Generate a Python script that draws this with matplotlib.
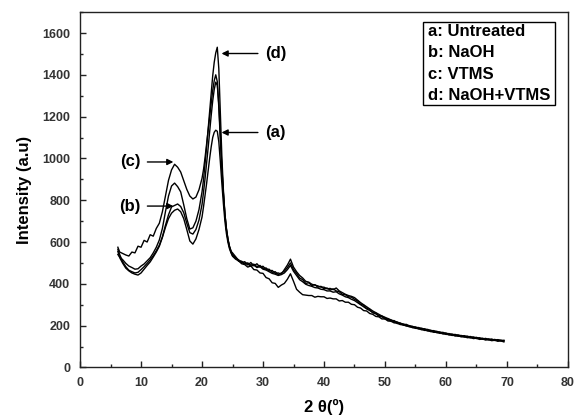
import numpy as np
import matplotlib
matplotlib.use("Agg")
import matplotlib.pyplot as plt
from matplotlib.ticker import MultipleLocator
from matplotlib.patches import Rectangle

plt.rcParams['font.family'] = ['Liberation Sans', 'DejaVu Sans']

# 2-theta sampling grid (degrees)
theta = np.r_[6.2, np.arange(6.5, 20.0, 0.5), np.arange(20.0, 25.0, 0.25), np.arange(25.0, 70.0, 0.5)]

untreated = [555, 525, 498, 475, 462, 452, 446, 442, 452, 470, 488, 505, 528, 552, 580, 622, 670, 712, 738, 752, 758, 745, 712, 660, 605, 590, 615, 660,
             720, 770, 825, 880, 940, 1000, 1055, 1100, 1125, 1135, 1130, 1080, 985, 880, 785, 700, 640, 598, 568, 548,
             532, 518, 510, 496, 492, 480, 486, 468, 466, 452, 450, 430, 424, 405, 402, 383, 394, 402, 422, 448,
             412, 374, 360, 348, 346, 344, 344, 336, 340, 338, 338, 330, 332, 328, 328, 318, 320, 312, 312, 302,
             300, 288, 284, 272, 270, 258, 254, 244, 242, 232, 232, 222, 222, 213, 214, 205, 205, 198, 198, 190,
             191, 184, 184, 177, 178, 171, 172, 166, 167, 160, 162, 155, 157, 150, 152, 146, 148, 142, 144, 138,
             140, 134, 136, 131, 133, 128, 130, 125, 127, 122]

naoh = [565, 540, 505, 482, 465, 458, 452, 455, 468, 482, 498, 515, 535, 558, 585, 625, 680, 730, 768, 775, 782, 770, 740, 690, 645, 638, 660, 705,
        780, 840, 905, 975, 1050, 1130, 1205, 1275, 1330, 1365, 1350, 1260, 1110, 960, 835, 730, 660, 610, 575, 552,
        535, 526, 508, 504, 494, 496, 484, 490, 478, 482, 470, 466, 458, 450, 446, 440, 444, 452, 468, 488,
        460, 440, 420, 410, 398, 392, 388, 382, 380, 374, 372, 366, 366, 360, 362, 352, 346, 338, 334, 326,
        320, 310, 300, 290, 280, 272, 262, 256, 246, 242, 232, 228, 220, 218, 210, 208, 202, 200, 194, 192,
        187, 186, 180, 180, 174, 174, 168, 168, 163, 163, 158, 158, 153, 154, 149, 150, 145, 146, 141, 143,
        138, 139, 135, 136, 132, 133, 129, 131, 127, 128]

vtms = [575, 552, 545, 538, 533, 552, 548, 580, 575, 608, 600, 635, 628, 665, 690, 745, 820, 895, 945, 972, 958, 935, 893, 852, 820, 806, 815, 850,
        905, 948, 1005, 1070, 1135, 1200, 1262, 1325, 1372, 1400, 1368, 1245, 1090, 950, 830, 735, 665, 615, 580, 558,
        540, 522, 515, 500, 506, 490, 502, 486, 496, 480, 484, 468, 470, 455, 458, 444, 452, 460, 478, 500,
        468, 450, 428, 420, 402, 405, 392, 396, 384, 388, 376, 380, 370, 376, 366, 362, 350, 348, 338, 336,
        326, 318, 302, 298, 282, 278, 262, 260, 248, 246, 236, 234, 224, 224, 214, 213, 205, 206, 198, 197,
        190, 191, 184, 185, 178, 178, 172, 173, 166, 168, 161, 162, 156, 158, 152, 153, 148, 150, 144, 146,
        140, 142, 136, 139, 133, 136, 130, 133, 128, 130]

naoh_vtms = [540, 528, 515, 498, 485, 478, 470, 472, 485, 495, 510, 525, 548, 575, 610, 665, 745, 820, 868, 882, 865, 840, 778, 712, 662, 668, 700, 755,
             840, 900, 975, 1055, 1140, 1225, 1310, 1395, 1460, 1505, 1532, 1430, 1220, 1010, 850, 735, 660, 612, 578, 555,
             548, 530, 512, 508, 498, 500, 490, 494, 482, 488, 474, 476, 462, 464, 450, 452, 446, 468, 490, 518,
             480, 458, 440, 428, 412, 408, 398, 394, 390, 384, 384, 376, 378, 372, 380, 366, 358, 350, 344, 340,
             334, 322, 310, 300, 290, 280, 270, 262, 254, 246, 240, 232, 228, 220, 218, 210, 208, 202, 200, 194,
             194, 188, 188, 182, 182, 176, 176, 170, 170, 164, 165, 159, 160, 154, 156, 150, 152, 146, 148, 142,
             144, 138, 140, 134, 137, 131, 134, 129, 131, 126]

legend_labels = ["a: Untreated", "b: NaOH", "c: VTMS", "d: NaOH+VTMS"]

fig = plt.figure(figsize=(5.76, 4.18), dpi=100)
ax = fig.add_axes([0.139, 0.121, 0.847, 0.850])

for series in (untreated, naoh, vtms, naoh_vtms):
    ax.plot(theta, series, color='black', lw=1.0)

ax.set_xlim(0, 80)
ax.set_ylim(0, 1700)
ax.xaxis.set_major_locator(MultipleLocator(10))
ax.xaxis.set_minor_locator(MultipleLocator(5))
ax.yaxis.set_major_locator(MultipleLocator(200))
ax.yaxis.set_minor_locator(MultipleLocator(100))
ax.tick_params(which='both', direction='in', width=1, colors='#222222',
               labelcolor='#333333', labelsize=9, pad=7)
ax.tick_params(which='major', length=4)
ax.tick_params(which='minor', length=2.5)
for lab in ax.get_xticklabels() + ax.get_yticklabels():
    lab.set_fontweight('bold')
for sp in ax.spines.values():
    sp.set_linewidth(1.0)
    sp.set_color('#222222')

ax.set_xlabel("2 θ(º)", fontsize=12, fontweight='bold', labelpad=7)
ax.set_ylabel("Intensity (a.u)", fontsize=12, fontweight='bold', labelpad=7)

# annotations
ap = dict(arrowstyle='-|>', color='black', lw=1.0, mutation_scale=9, shrinkA=3, shrinkB=0)
tk = dict(fontsize=12, fontweight='bold', va='center')
ax.annotate("(d)", xy=(23.2, 1502), xytext=(30.3, 1502), ha='left', arrowprops=ap, **tk)
ax.annotate("(a)", xy=(23.2, 1124), xytext=(30.3, 1124), ha='left', arrowprops=ap, **tk)
ax.annotate("(c)", xy=(15.3, 983), xytext=(9.9, 983), ha='right', arrowprops=ap, **tk)
ax.annotate("(b)", xy=(15.3, 772), xytext=(9.9, 772), ha='right', arrowprops=ap, **tk)

# legend box
ax.add_patch(Rectangle((56.2, 1258), 21.6, 396, fill=True, facecolor='white',
                       edgecolor='black', lw=1.0, zorder=3))
for lab, yv in zip(legend_labels, [1606, 1507, 1403, 1303]):
    ax.text(57.0, yv, lab, fontsize=12, fontweight='bold', va='center', ha='left', zorder=4)

fig.savefig("out.png", dpi=100)
